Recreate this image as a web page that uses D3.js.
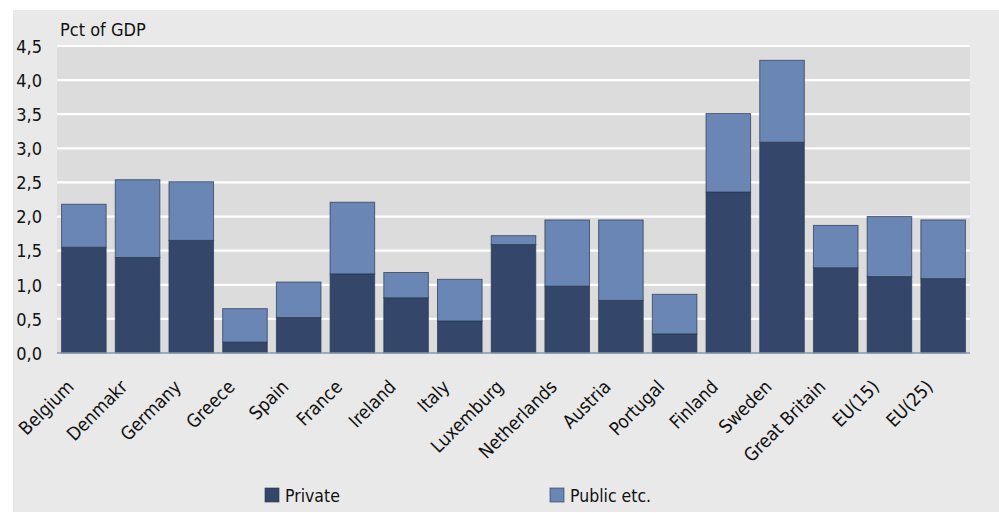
<!DOCTYPE html>
<html>
<head>
<meta charset="utf-8">
<script src="https://cdn.jsdelivr.net/npm/d3@7"></script>
<style>
  html, body { margin: 0; padding: 0; background: #ffffff; }
  svg { display: block; }
  text { font-family: "DejaVu Sans Condensed", "DejaVu Sans", sans-serif; font-stretch: condensed; fill: #111; }
</style>
</head>
<body>
<svg id="chart" width="999" height="513"></svg>
<script>
// Spending as a share of GDP, split into private and public funding
const categories = ["Belgium", "Denmakr", "Germany", "Greece", "Spain", "France", "Ireland", "Italy",
  "Luxemburg", "Netherlands", "Austria", "Portugal", "Finland", "Sweden", "Great Britain", "EU(15)", "EU(25)"];
const privateValues = [1.55, 1.40, 1.65, 0.16, 0.52, 1.16, 0.81, 0.47, 1.59, 0.98, 0.77, 0.28, 2.36, 3.09, 1.25, 1.12, 1.09];
const publicValues  = [0.63, 1.14, 0.86, 0.49, 0.52, 1.05, 0.37, 0.61, 0.13, 0.97, 1.18, 0.58, 1.15, 1.20, 0.62, 0.88, 0.86];
const yTicks = [0, 0.5, 1, 1.5, 2, 2.5, 3, 3.5, 4, 4.5];
const seriesNames = ["Private", "Public etc."];
const seriesColors = ["#34476b", "#6a86b4"];

const svg = d3.select("#chart");
const W = 999, H = 513;
const plot = { left: 57, right: 970, top: 46, bottom: 353 };

// outer panel
svg.append("rect").attr("x", 13).attr("y", 10).attr("width", W - 13).attr("height", H - 11)
  .attr("fill", "#e9e9e9");

const x = d3.scaleBand().domain(categories).range([plot.left, plot.right]).paddingInner(0.17).paddingOuter(0.085);
const y = d3.scaleLinear().domain([0, 4.5]).range([plot.bottom, plot.top]);

// plot background
svg.append("rect").attr("x", plot.left).attr("y", plot.top)
  .attr("width", plot.right - plot.left).attr("height", plot.bottom - plot.top)
  .attr("fill", "#dcdcdc");

// gridlines
svg.append("g").selectAll("line").data(yTicks.filter(d => d > 0)).join("line")
  .attr("x1", plot.left).attr("x2", plot.right)
  .attr("y1", d => y(d)).attr("y2", d => y(d))
  .attr("stroke", "#ffffff").attr("stroke-width", 2.2);

// stacked bars
const rows = categories.map((c, i) => ({ cat: c, Private: privateValues[i], "Public etc.": publicValues[i] }));
const stacked = d3.stack().keys(seriesNames)(rows);
svg.append("g").selectAll("g").data(stacked).join("g")
  .attr("fill", (d, i) => seriesColors[i])
  .selectAll("rect").data(d => d).join("rect")
  .attr("x", d => x(d.data.cat))
  .attr("width", x.bandwidth())
  .attr("y", d => y(d[1]))
  .attr("height", d => y(d[0]) - y(d[1]))
  .attr("stroke", "#263650").attr("stroke-opacity", 0.7).attr("stroke-width", 1);

// y axis
const yAxis = d3.axisLeft(y).tickValues(yTicks).tickSize(0).tickPadding(0)
  .tickFormat(d => d3.format(".1f")(d).replace(".", ","));
const ya = svg.append("g").attr("transform", `translate(42,0)`).call(yAxis);
ya.select(".domain").remove();
ya.attr("font-family", null);
ya.selectAll("text").attr("font-size", 18).attr("dy", "0.35em").attr("fill", "#111");

// x axis baseline and labels
svg.append("line").attr("x1", plot.left).attr("x2", plot.right)
  .attr("y1", plot.bottom).attr("y2", plot.bottom)
  .attr("stroke", "#8a96ab").attr("stroke-width", 1.5);
const xAxis = d3.axisBottom(x).tickSize(0).tickPadding(0);
const xa = svg.append("g").attr("transform", `translate(0,${plot.bottom})`).call(xAxis);
xa.select(".domain").remove();
xa.attr("font-family", null).attr("font-size", null);
xa.selectAll("text")
  .attr("font-size", 18.5)
  .attr("text-anchor", "end")
  .attr("dy", 0).attr("y", 0)
  .attr("transform", "translate(-9,35) rotate(-45)")
  .attr("fill", "#111");

// unit label
svg.append("text").attr("x", 60).attr("y", 36).attr("font-size", 18).text("Pct of GDP");

// legend
const legendX = [265, 550];
const lg = svg.append("g").selectAll("g").data(seriesNames).join("g")
  .attr("transform", (d, i) => `translate(${legendX[i]},488)`);
lg.append("rect").attr("width", 14).attr("height", 14)
  .attr("fill", (d, i) => seriesColors[i]).attr("stroke", "#263650").attr("stroke-opacity", 0.6);
lg.append("text").attr("x", 20).attr("y", 13.5).attr("font-size", 17.5).text(d => d);
</script>
</body>
</html>
